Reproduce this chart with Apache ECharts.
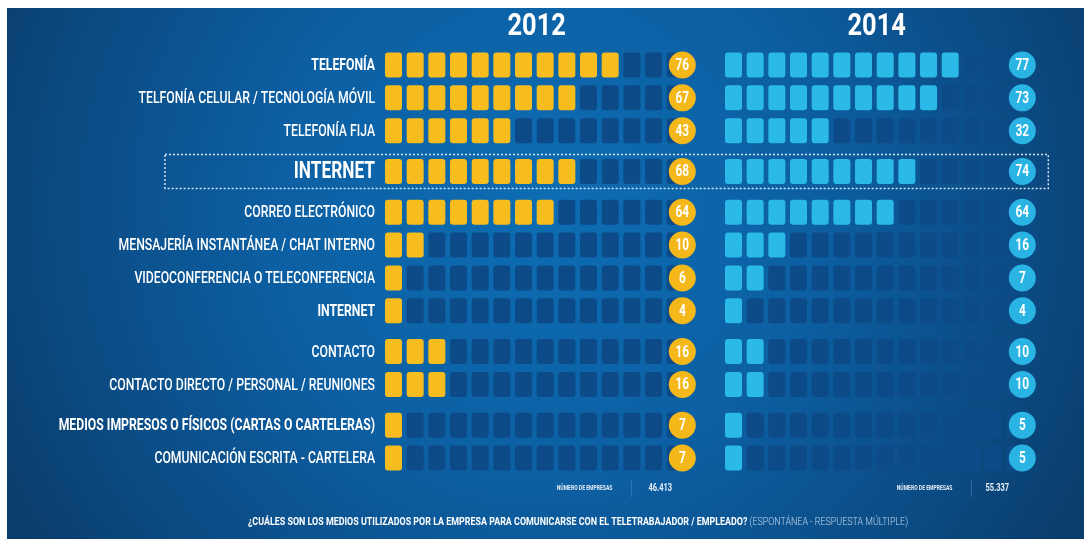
<!DOCTYPE html>
<html>
<head>
<meta charset="utf-8">
<script src="https://cdn.jsdelivr.net/npm/echarts@6/dist/echarts.min.js"></script>
<style>
  html, body { margin: 0; padding: 0; background: #ffffff; }
  #chart { width: 1084px; height: 539px; }
</style>
</head>
<body>
<div id="chart"></div>
<script>
// Medios de comunicación con el teletrabajador: 2012 vs 2014
const years = ['2012', '2014'];
const channels = [
  'TELEFONÍA',
  'TELFONÍA CELULAR / TECNOLOGÍA MÓVIL',
  'TELEFONÍA FIJA',
  'INTERNET',
  'CORREO ELECTRÓNICO',
  'MENSAJERÍA INSTANTÁNEA / CHAT INTERNO',
  'VIDEOCONFERENCIA O TELECONFERENCIA',
  'INTERNET',
  'CONTACTO',
  'CONTACTO DIRECTO / PERSONAL / REUNIONES',
  'MEDIOS IMPRESOS O FÍSICOS (CARTAS O CARTELERAS)',
  'COMUNICACIÓN ESCRITA - CARTELERA'
];
// percentage of companies (badge values)
const pct2012 = [76, 67, 43, 68, 64, 10, 6, 4, 16, 16, 7, 7];
const pct2014 = [77, 73, 32, 74, 64, 16, 7, 4, 10, 10, 5, 5];
// filled icons per row
const icons2012 = [11, 9, 6, 9, 8, 2, 1, 1, 3, 3, 1, 1];
const icons2014 = [11, 10, 5, 9, 8, 3, 2, 1, 2, 2, 1, 1];
// first row of each group of channels
const groupStarts = [0, 3, 4, 8, 10];
const companiesLabel = 'NÚMERO DE EMPRESAS';
const companies = ['46.413', '55.337'];
const question = '¿CUÁLES SON LOS MEDIOS UTILIZADOS POR LA EMPRESA PARA COMUNICARSE CON EL TELETRABAJADOR / EMPLEADO?';
const questionNote = ' (ESPONTÁNEA - RESPUESTA MÚLTIPLE)';

// ---- layout ----
const SLOTS = 14;          // icon slots per row
const BADGE_X = 13.72;     // badge position in slot units
const BLOCK_W = 17, BLOCK_H = 25;
const GROUP_GAP = 0.24;    // extra spacing between groups, in row units
const EMPTY = '#0c4a88';
const FONT = 'Roboto, "Liberation Sans", sans-serif';
const highlightRow = 3;
const strongRows = new Set([0, 7, 10]);

// vertical position of each row (row units)
const rowPos = channels.map((_, i) => i + GROUP_GAP * (groupStarts.filter(s => s > 0 && s <= i).length));
const yMax = rowPos[rowPos.length - 1];

const palettes = [
  { fill: '#f7bd1e', badge: '#f5b81b' },
  { fill: '#2bb9e8', badge: '#29b4e4' }
];

function rowRenderer(s) {
  const pal = palettes[s];
  return function (params, api) {
    const row = api.value(0);
    const filled = api.value(1);
    const pct = api.value(2);
    const y = rowPos[row];
    const children = [];
    for (let k = 0; k < SLOTS; k++) {
      const p = api.coord([k, y]);
      children.push({
        type: 'rect',
        shape: { x: p[0], y: p[1] - BLOCK_H / 2, width: BLOCK_W, height: BLOCK_H, r: 3 },
        style: { fill: k < filled ? pal.fill : EMPTY }
      });
    }
    const c = api.coord([BADGE_X, y]);
    children.push({ type: 'circle', shape: { cx: c[0], cy: c[1], r: 13.5 }, style: { fill: pal.badge } });
    children.push({
      type: 'text', x: c[0], y: c[1] + 1, scaleX: 0.74,
      style: { text: String(pct), fill: '#ffffff', font: 'bold 16px ' + FONT, align: 'center', verticalAlign: 'middle' }
    });
    if (s === 0) {
      const p0 = api.coord([0, y]);
      const big = row === highlightRow;
      const weight = (big || strongRows.has(row)) ? 'bold' : '500';
      const size = big ? 24 : 17;
      children.push({
        type: 'text', x: p0[0] - 10, y: p0[1] + 1, scaleX: 0.72,
        style: { text: channels[row], fill: '#ffffff', font: weight + ' ' + size + 'px ' + FONT, align: 'right', verticalAlign: 'middle' }
      });
    }
    return { type: 'group', children };
  };
}

const grids = [
  { left: 385, top: 65, width: SLOTS * 21.67, height: 393 },
  { left: 725, top: 65, width: SLOTS * 21.67, height: 393 }
];

const chart = echarts.init(document.getElementById('chart'), null, { renderer: 'canvas' });

const option = {
  backgroundColor: '#ffffff',
  animation: false,
  grid: grids,
  xAxis: grids.map((g, i) => ({ type: 'value', gridIndex: i, min: 0, max: SLOTS, show: false })),
  yAxis: grids.map((g, i) => ({ type: 'value', gridIndex: i, min: 0, max: yMax, inverse: true, show: false })),
  series: [
    {
      type: 'custom', name: years[0], xAxisIndex: 0, yAxisIndex: 0, clip: false,
      renderItem: rowRenderer(0),
      data: channels.map((_, i) => [i, icons2012[i], pct2012[i]])
    },
    {
      type: 'custom', name: years[1], xAxisIndex: 1, yAxisIndex: 1, clip: false,
      renderItem: rowRenderer(1),
      data: channels.map((_, i) => [i, icons2014[i], pct2014[i]])
    }
  ]
};
chart.setOption(option);

// decorations placed from the grids' own coordinate systems
const graphics = [];
graphics.push({
  type: 'rect', z: -10, silent: true,
  shape: { x: 7, y: 8, width: 1084 - 7, height: 539 - 8 },
  style: {
    fill: new echarts.graphic.RadialGradient(0.5, 0.38, 1.15, [
      { offset: 0, color: '#0e6db3' },
      { offset: 0.45, color: '#0c5fa2' },
      { offset: 0.8, color: '#0b4a82' },
      { offset: 1, color: '#0a3d6b' }
    ])
  }
});

years.forEach((yr, i) => {
  const g = grids[i];
  const cx = g.left + g.width / 2;
  const right = g.left + g.width;
  graphics.push({
    type: 'text', x: cx, y: 27, scaleX: 0.82,
    style: { text: yr, fill: '#ffffff', font: 'bold 31px ' + FONT, align: 'center', verticalAlign: 'middle' }
  });
  graphics.push({
    type: 'text', x: right - 76, y: 488, scaleX: 0.72,
    style: { text: companiesLabel, fill: '#e6eef7', font: 'bold 7px ' + FONT, align: 'right', verticalAlign: 'middle' }
  });
  graphics.push({
    type: 'line', shape: { x1: right - 57, y1: 480, x2: right - 57, y2: 497 },
    style: { stroke: 'rgba(120,170,220,0.35)', lineWidth: 1 }
  });
  graphics.push({
    type: 'text', x: right - 40 - (i ? 3 : 0), y: 488, scaleX: 0.75,
    style: { text: companies[i], fill: '#e6eef7', font: 'bold 10px ' + FONT, align: 'left', verticalAlign: 'middle' }
  });
});

// highlight frame around the main INTERNET row
const hl0 = chart.convertToPixel({ gridIndex: 0 }, [0, rowPos[highlightRow]]);
const hl1 = chart.convertToPixel({ gridIndex: 1 }, [BADGE_X, rowPos[highlightRow]]);
graphics.push({
  type: 'rect',
  shape: { x: 165, y: hl0[1] - 17, width: hl1[0] + 26 - 165, height: 34 },
  style: { fill: 'none', stroke: 'rgba(235,245,255,0.9)', lineWidth: 1.5, lineDash: [2, 2] }
});

graphics.push({
  type: 'text', x: 578, y: 522, scaleX: 0.89,
  style: {
    text: '{b|' + question + '}{l|' + questionNote + '}',
    align: 'center', verticalAlign: 'middle',
    rich: {
      b: { fill: '#ffffff', font: 'bold 10px ' + FONT },
      l: { fill: '#c4d6ea', font: '300 10px ' + FONT }
    }
  }
});

chart.setOption({ graphic: graphics });
</script>
</body>
</html>
